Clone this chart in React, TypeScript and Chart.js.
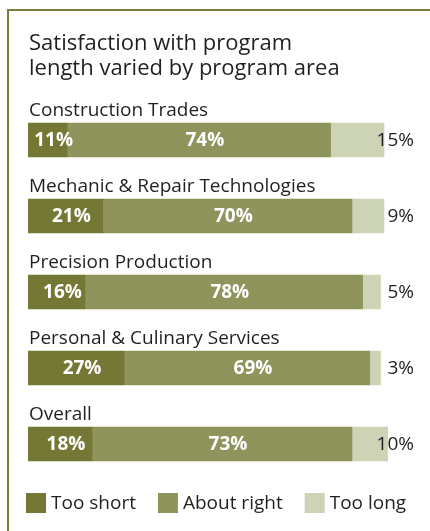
import React, { useEffect, useRef } from "react";
import { Chart, registerables } from "chart.js";

Chart.register(...registerables);

const TITLE_LINES = ["Satisfaction with program", "length varied by program area"];
const CATEGORIES = [
  "Construction Trades",
  "Mechanic & Repair Technologies",
  "Precision Production",
  "Personal & Culinary Services",
  "Overall",
];
const SERIES_NAMES = ["Too short", "About right", "Too long"];
const TOO_SHORT = [11, 21, 16, 27, 18];
const ABOUT_RIGHT = [74, 70, 78, 69, 73];
const TOO_LONG = [15, 9, 5, 3, 10];
const COLORS = ["#747834", "#8f945c", "#cdd3b5"];

const FONT = "'Open Sans', 'Noto Sans', sans-serif";
const TEXT = "#231f20";

const labelsPlugin = {
  id: "customLabels",
  afterDatasetsDraw(chart: any) {
    const ctx = chart.ctx;
    const area = chart.chartArea;
    const xScale = chart.scales.x;
    ctx.save();
    // Title
    ctx.fillStyle = TEXT;
    ctx.textAlign = "left";
    ctx.textBaseline = "alphabetic";
    ctx.font = `22px ${FONT}`;
    TITLE_LINES.forEach((t, i) => ctx.fillText(t, area.left + 1, 50 + i * 25));

    const meta0 = chart.getDatasetMeta(0);
    const meta1 = chart.getDatasetMeta(1);
    const meta2 = chart.getDatasetMeta(2);
    CATEGORIES.forEach((cat, i) => {
      const b0 = meta0.data[i] as any;
      const top = b0.y - b0.height / 2;
      ctx.fillStyle = TEXT;
      ctx.font = `19px ${FONT}`;
      ctx.textAlign = "left";
      ctx.textBaseline = "alphabetic";
      ctx.fillText(cat, area.left + 1, top - 7);

      // inside labels
      ctx.fillStyle = "#ffffff";
      ctx.font = `bold 19px ${FONT}`;
      ctx.textAlign = "center";
      ctx.textBaseline = "middle";
      [meta0, meta1].forEach((m, di) => {
        const el = m.data[i] as any;
        const v = chart.data.datasets[di].data[i];
        ctx.fillText(`${v}%`, (el.x + el.base) / 2 + 6, el.y + 1);
      });
      // outside label
      const el2 = meta2.data[i] as any;
      ctx.fillStyle = TEXT;
      ctx.font = `19px ${FONT}`;
      ctx.textAlign = "right";
      ctx.fillText(`${chart.data.datasets[2].data[i]}%`, xScale.getPixelForValue(100) + 30, el2.y + 1);
    });

    // Legend
    let x = area.left - 2;
    const boxY = 493;
    ctx.font = `19px ${FONT}`;
    ctx.textAlign = "left";
    ctx.textBaseline = "alphabetic";
    SERIES_NAMES.forEach((name, i) => {
      ctx.fillStyle = COLORS[i];
      ctx.fillRect(x, boxY, 20, 20);
      ctx.fillStyle = TEXT;
      ctx.fillText(name, x + 25, boxY + 16);
      x = x + 25 + ctx.measureText(name).width + 22;
    });
    ctx.restore();
  },
};

export default function App() {
  const ref = useRef<HTMLCanvasElement | null>(null);
  useEffect(() => {
    if (!ref.current) return;
    const chart = new Chart(ref.current, {
      type: "bar",
      data: {
        labels: CATEGORIES,
        datasets: [TOO_SHORT, ABOUT_RIGHT, TOO_LONG].map((d, i) => ({
          label: SERIES_NAMES[i],
          data: d,
          backgroundColor: COLORS[i],
          borderWidth: 0,
          barThickness: 34,
          stack: "s",
        })),
      },
      options: {
        indexAxis: "y",
        responsive: false,
        maintainAspectRatio: false,
        animation: false,
        layout: { padding: { left: 28, right: 10.4, top: 102, bottom: 49 } },
        plugins: { legend: { display: false }, tooltip: { enabled: false }, title: { display: false } },
        scales: {
          x: { stacked: true, min: 0, max: 110, display: false },
          y: { stacked: true, display: false },
        },
      },
      plugins: [labelsPlugin],
    });
    return () => chart.destroy();
  }, []);
  return (
    <div style={{ position: "fixed", left: 0, top: 0, width: 430, height: 531, background: "#fff" }}>
      <div style={{ position: "absolute", left: 7, top: 9, right: 0, height: 2, background: "#7b7e38" }} />
      <div style={{ position: "absolute", left: 7, top: 9, bottom: 0, width: 2, background: "#7b7e38" }} />
      <canvas ref={ref} width={430} height={531} style={{ position: "absolute", left: 0, top: 0 }} />
    </div>
  );
}
